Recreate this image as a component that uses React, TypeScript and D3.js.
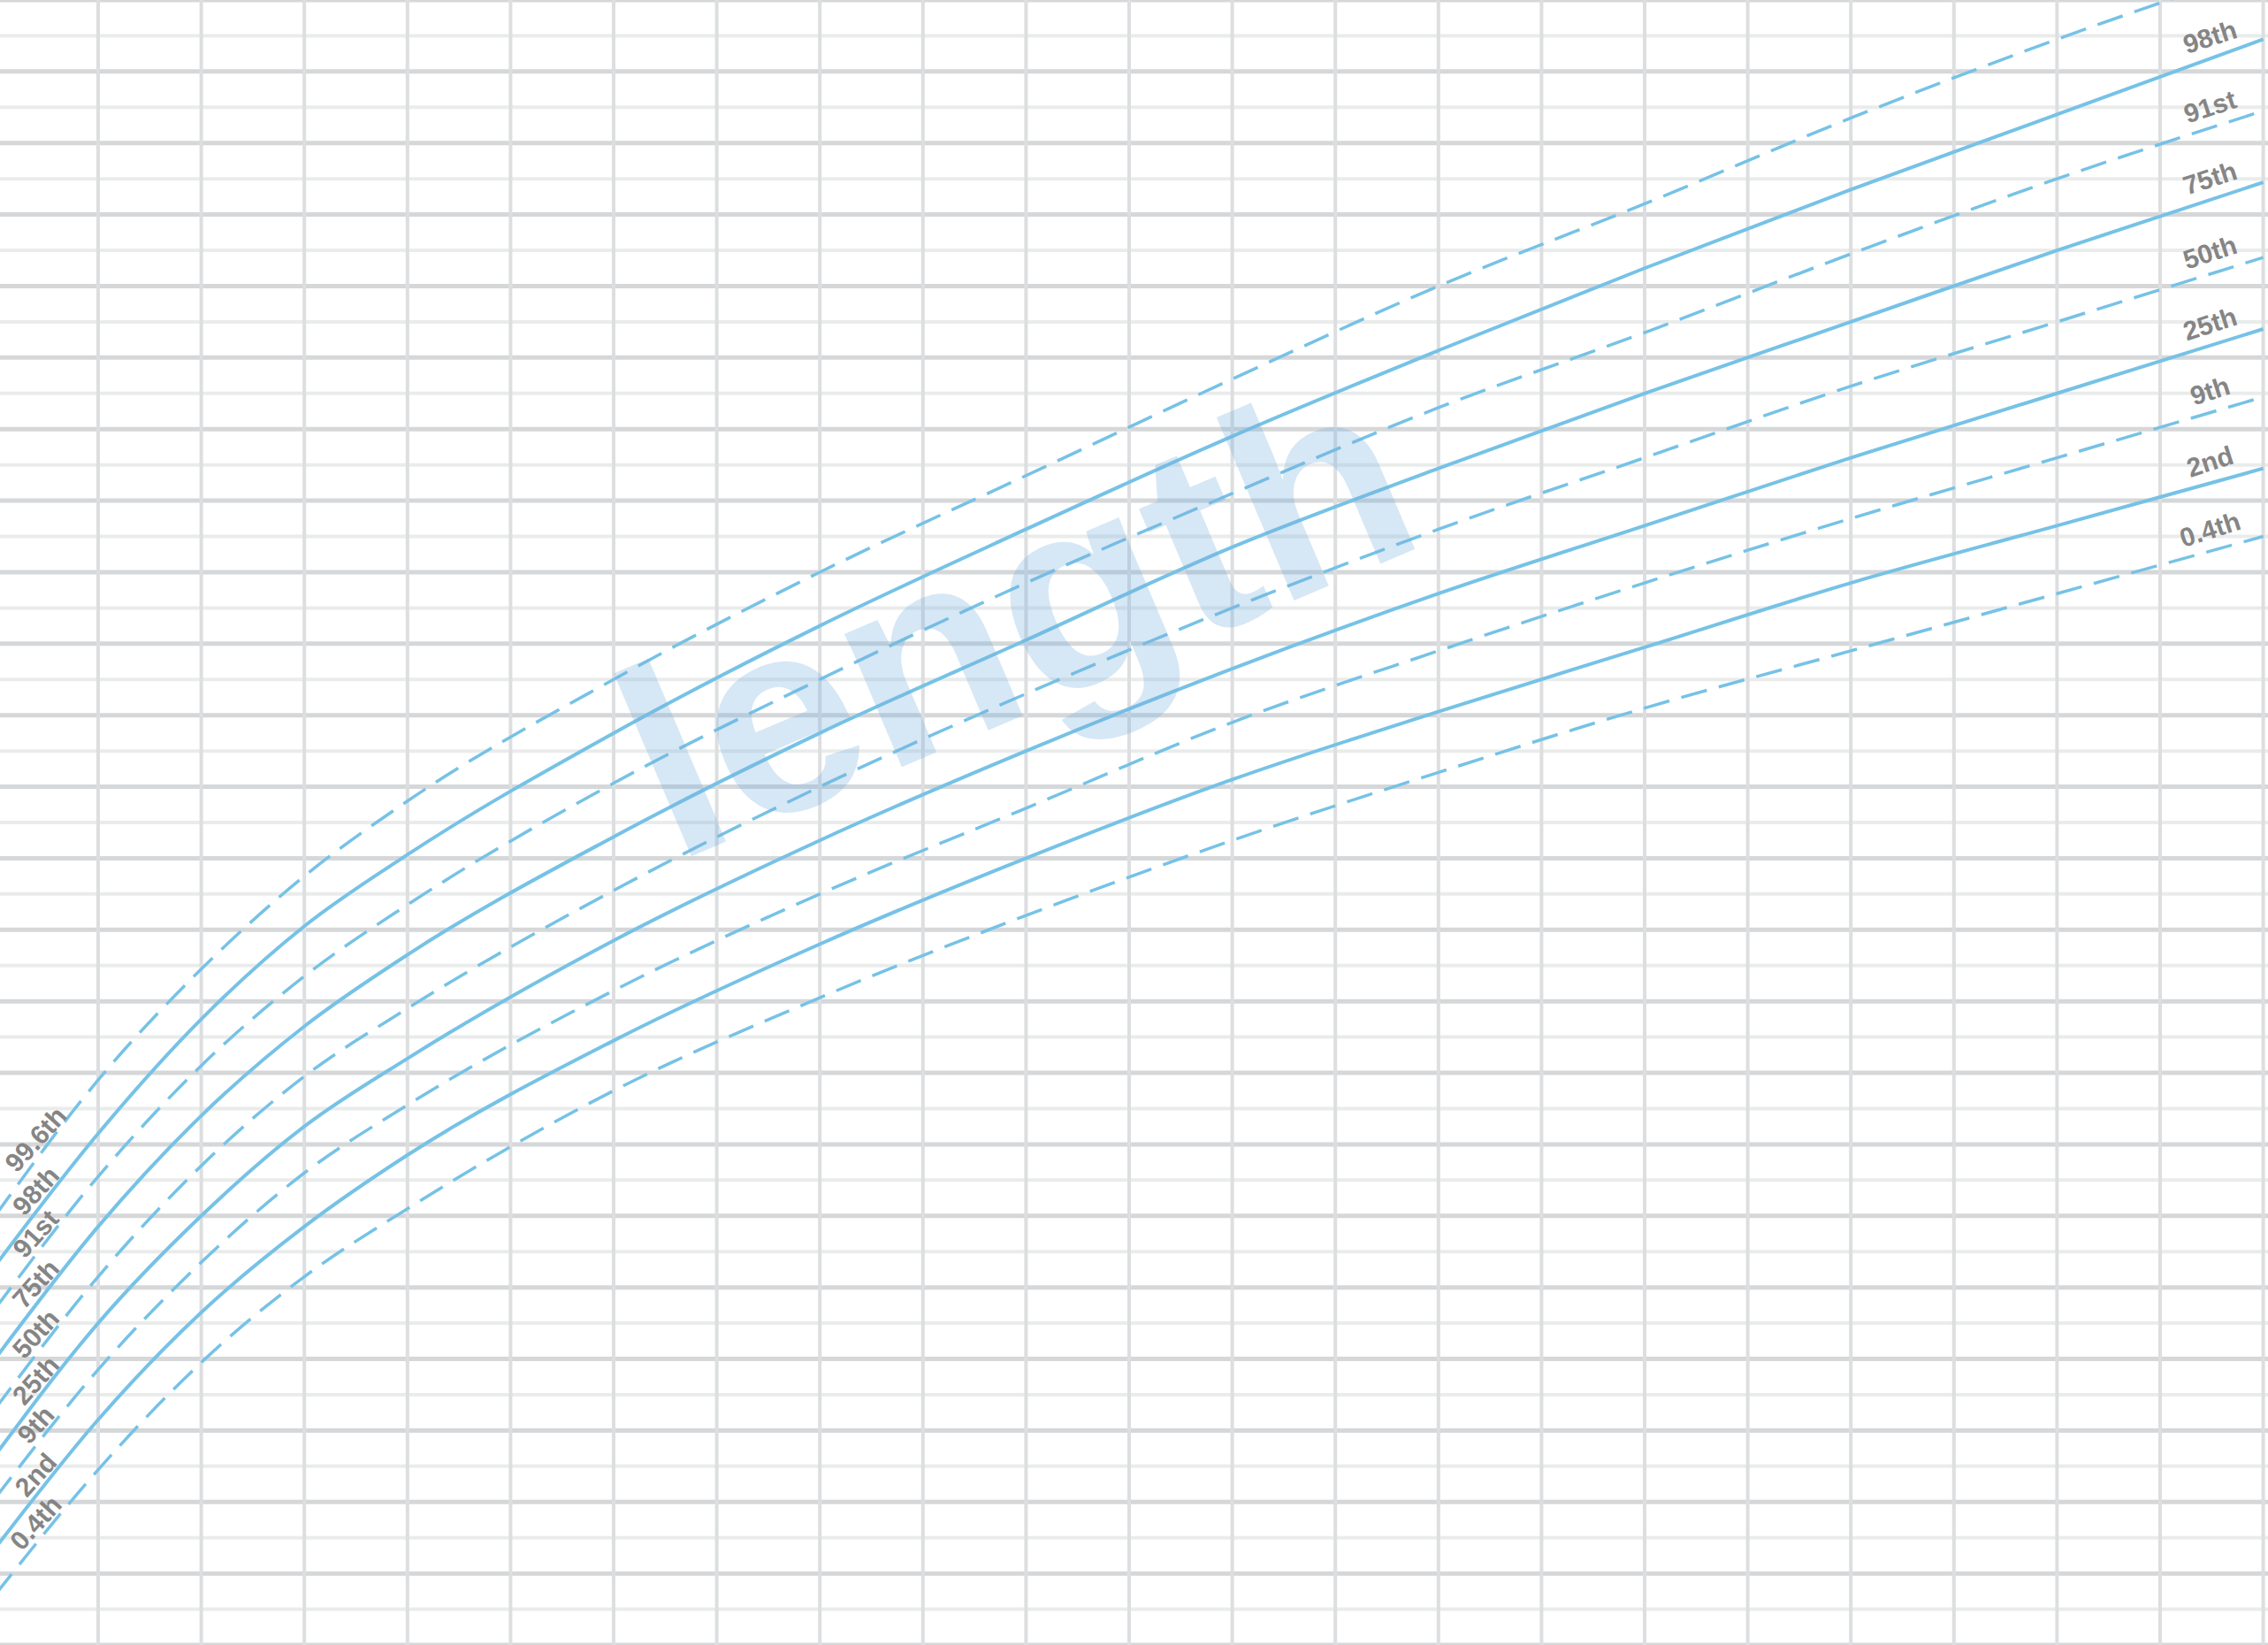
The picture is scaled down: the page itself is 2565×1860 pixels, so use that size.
import * as d3 from 'd3'
import { useEffect } from 'react'

const WIDTH = 2565
const HEIGHT = 1860

// age in grid columns, length in cm
const ages = [0, 1, 2, 3, 4, 6, 8, 10, 12, 14, 16, 18, 20, 22]
const p996 = [56.0, 59.8, 62.9, 65.5, 67.6, 71.0, 74.0, 76.7, 79.4, 82.0, 84.3, 86.7, 88.9, 90.9]
const p98 = [54.6, 58.3, 61.5, 64.1, 66.1, 69.5, 72.5, 75.2, 77.8, 80.2, 82.5, 84.7, 86.8, 88.9]
const p91 = [53.4, 57.1, 60.2, 62.7, 64.7, 68.1, 71.0, 73.7, 76.2, 78.6, 80.7, 82.9, 85.0, 86.9]
const p75 = [52.0, 55.7, 58.8, 61.3, 63.3, 66.6, 69.5, 72.1, 74.7, 76.9, 79.0, 81.0, 83.0, 84.9]
const p50 = [50.6, 54.3, 57.4, 59.9, 61.8, 65.1, 68.0, 70.6, 73.0, 75.2, 77.2, 79.2, 81.0, 82.8]
const p25 = [49.3, 53.0, 56.0, 58.5, 60.4, 63.7, 66.5, 69.0, 71.3, 73.4, 75.3, 77.2, 79.0, 80.8]
const p9 = [48.1, 51.7, 54.7, 57.2, 59.1, 62.3, 65.0, 67.4, 69.8, 71.8, 73.7, 75.5, 77.2, 78.9]
const p2 = [46.7, 50.3, 53.3, 55.7, 57.7, 60.9, 63.6, 66.0, 68.2, 70.1, 71.9, 73.7, 75.3, 76.9]
const p04 = [45.4, 48.9, 51.9, 54.3, 56.2, 59.5, 62.1, 64.4, 66.5, 68.4, 70.2, 71.8, 73.4, 75.0]

const centileNames = ['99.6th', '98th', '91st', '75th', '50th', '25th', '9th', '2nd', '0.4th']
const centileValues = [p996, p98, p91, p75, p50, p25, p9, p2, p04]
const dashed = [true, false, true, false, true, false, true, false, true]

const xTicks = d3.range(0, 23)
const yTicks = d3.range(44, 91)

const LINE_COLOR = '#76c2e6'
const LABEL_COLOR = '#858585'

const App = () => {
    useEffect(() => {
        document.body.style.margin = '0'
        document.body.style.overflow = 'hidden'
    }, [])

    const x = d3.scaleLinear().domain([0, 22]).range([-5.6, 2559.6])
    const y = d3.scaleLinear().domain([44, 90]).range([HEIGHT, 0])

    const line = d3.line<[number, number]>()
        .x(d => x(d[0]))
        .y(d => y(d[1]))
        .curve(d3.curveMonotoneX)

    // piecewise lookup used to place the centile labels on their curves
    const at = (vals: number[], age: number) => d3.scaleLinear().domain(ages).range(vals)(age)

    return (
        <svg width={WIDTH} height={HEIGHT} style={{ display: 'block', background: '#fff' }}>
            <rect width={WIDTH} height={HEIGHT} fill='#fff' />

            {/* horizontal grid: 1 cm lines, darker every 2 cm */}
            {yTicks.map(t => (
                <line key={'h' + t}
                    x1={0} x2={WIDTH} y1={y(t)} y2={y(t)}
                    stroke={t % 2 === 0 ? '#d5d7d9' : '#eaecec'}
                    strokeWidth={t % 2 === 0 ? 5 : 4} />
            ))}

            {/* vertical grid */}
            {xTicks.map(t => (
                <line key={'v' + t}
                    x1={x(t)} x2={x(t)} y1={0} y2={HEIGHT}
                    stroke='#dcdee0' strokeWidth={4} />
            ))}

            {/* centile curves */}
            {centileValues.map((vals, i) => (
                <path key={'c' + i}
                    d={line(ages.map((a, j) => [a, vals[j]]))!}
                    fill='none'
                    stroke={LINE_COLOR}
                    strokeWidth={dashed[i] ? 3.5 : 4}
                    strokeDasharray={dashed[i] ? '30 14' : undefined} />
            ))}

            {/* left labels */}
            {centileValues.map((vals, i) => {
                const lx = x(0.41)
                const ly = y(at(vals, 0.41)) - 22
                return (
                    <text key={'ll' + i}
                        x={lx} y={ly}
                        transform={`rotate(-48, ${lx}, ${ly})`}
                        textAnchor='middle' dominantBaseline='middle'
                        fontFamily='Liberation Sans, Arial, sans-serif'
                        fontSize={30} fontWeight={600} fill={LABEL_COLOR}>
                        {centileNames[i]}
                    </text>
                )
            })}

            {/* right labels (the top one runs off the chart, as in the original) */}
            {centileValues.map((vals, i) => {
                const lx = x(21.49)
                const ly = y(at(vals, 21.49)) - 22
                if (ly < 15) return null
                return (
                    <text key={'rl' + i}
                        x={lx} y={ly}
                        transform={`rotate(-18, ${lx}, ${ly})`}
                        textAnchor='middle' dominantBaseline='middle'
                        fontFamily='Liberation Sans, Arial, sans-serif'
                        fontSize={30} fontWeight={600} fill={LABEL_COLOR}>
                        {centileNames[i]}
                    </text>
                )
            })}

            {/* watermark */}
            <text x={1190} y={795}
                transform='rotate(-23, 1190, 795)'
                textAnchor='middle'
                fontFamily='Liberation Sans, Arial, sans-serif'
                fontWeight='bold' fontSize={310}
                fill='rgb(120, 175, 222)' fillOpacity={0.3}>
                length
            </text>
        </svg>
    )
}

export default App
